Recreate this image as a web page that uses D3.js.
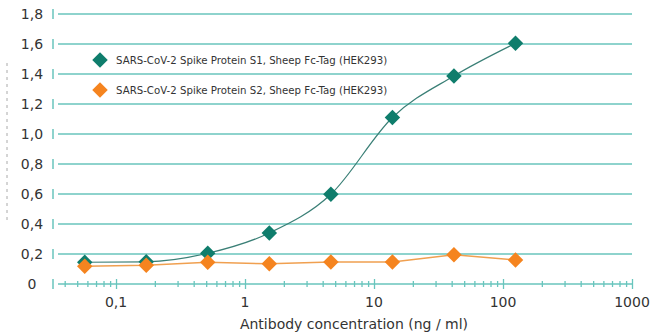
<!DOCTYPE html>
<html><head><meta charset="utf-8">
<script src="https://cdn.jsdelivr.net/npm/d3@7"></script>
<style>body{margin:0;background:#fff}svg{display:block}</style>
</head><body>
<script>
const concentrations = [0.0572, 0.1715, 0.514, 1.543, 4.63, 13.89, 41.67, 125];
const s1Values = [0.145, 0.148, 0.205, 0.34, 0.598, 1.11, 1.387, 1.605];
const s2Values = [0.118, 0.125, 0.145, 0.135, 0.147, 0.147, 0.195, 0.16];
const seriesNames = ["SARS-CoV-2 Spike Protein S1, Sheep Fc-Tag (HEK293)", "SARS-CoV-2 Spike Protein S2, Sheep Fc-Tag (HEK293)"];
const yTicks = [0, 0.2, 0.4, 0.6, 0.8, 1.0, 1.2, 1.4, 1.6, 1.8];
const xMajor = [0.1, 1, 10, 100, 1000];
const xLabels = ["0,1", "1", "10", "100", "1000"];
const xTitle = "Antibody concentration (ng / ml)";

const W = 650, H = 336;
const grid = "#68c5bd", teal = "#0f7d6c", orange = "#f5841f", txt = "#333";
const svg = d3.select("body").append("svg").attr("width", W).attr("height", H);

const x = d3.scaleLog().domain([0.0355, 1000]).range([58, 632]);
const y = d3.scaleLinear().domain([0, 1.8]).range([284, 14]);

// faint dashed mark at left
svg.append("line").attr("x1", 7).attr("x2", 7).attr("y1", 63).attr("y2", 220)
  .attr("stroke", "#aaa").attr("stroke-width", 1).attr("stroke-dasharray", "3,4");

// gridlines
svg.append("g").selectAll("line").data(yTicks.filter(d => d > 0)).join("line")
  .attr("x1", 58).attr("x2", 632).attr("y1", d => y(d)).attr("y2", d => y(d))
  .attr("stroke", grid).attr("stroke-width", 1.5);
// y tick marks
svg.append("g").selectAll("line").data(yTicks).join("line")
  .attr("x1", 53).attr("x2", 53).attr("y1", d => y(d) - 5).attr("y2", d => y(d) + 5)
  .attr("stroke", grid).attr("stroke-width", 1.5);
// y labels
svg.append("g").selectAll("text").data(yTicks).join("text")
  .attr("x", 32).attr("y", d => y(d)).attr("dy", "0.36em").attr("text-anchor", "middle")
  .attr("font-family", "DejaVu Sans").attr("font-size", 14).attr("fill", txt)
  .text(d => d === 0 ? "0" : d3.format(".1f")(d).replace(".", ","));

// x axis
const xAxis = d3.axisBottom(x).tickValues(x.ticks()).tickSize(0).tickFormat("");
const gx = svg.append("g").attr("transform", `translate(0,${y(0)})`).call(xAxis);
gx.select(".domain").attr("stroke", grid).attr("stroke-width", 1.5).attr("d", "M58,0H632");
gx.selectAll(".tick line").each(function(d) {
  const major = xMajor.some(m => Math.abs(m - d) / m < 1e-6);
  d3.select(this).attr("y1", major ? -5 : -3).attr("y2", major ? 5 : 3)
    .attr("stroke", grid).attr("stroke-width", 1.3);
});
svg.append("g").selectAll("text").data(xMajor).join("text")
  .attr("x", d => x(d)).attr("y", 307).attr("text-anchor", "middle")
  .attr("font-family", "DejaVu Sans").attr("font-size", 14).attr("fill", txt)
  .text((d, i) => xLabels[i]);
svg.append("text").attr("x", 354).attr("y", 329).attr("text-anchor", "middle")
  .attr("font-family", "DejaVu Sans").attr("font-size", 14).attr("fill", txt).text(xTitle);

// lines
const s1 = concentrations.map((c, i) => [c, s1Values[i]]);
const s2 = concentrations.map((c, i) => [c, s2Values[i]]);
svg.append("path").datum(s2).attr("fill", "none").attr("stroke", "#f0a050").attr("stroke-width", 1.5)
  .attr("d", d3.line().x(d => x(d[0])).y(d => y(d[1])));
svg.append("path").datum(s1).attr("fill", "none").attr("stroke", "#3a7f76").attr("stroke-width", 1.2)
  .attr("d", d3.line().curve(d3.curveMonotoneX).x(d => x(d[0])).y(d => y(d[1])));

const diamond = d3.symbol().type(d3.symbolSquare).size(120);
function marks(data, color) {
  svg.append("g").selectAll("path").data(data).join("path")
    .attr("d", diamond).attr("fill", color)
    .attr("transform", d => `translate(${x(d[0])},${y(d[1])}) rotate(45)`);
}
marks(s1, teal);
marks(s2, orange);

// legend
const lg = svg.append("g");
[[teal, 60], [orange, 90]].forEach(([c, ly], i) => {
  lg.append("path").attr("d", diamond).attr("fill", c).attr("transform", `translate(100,${ly}) rotate(45)`);
  lg.append("text").attr("x", 116).attr("y", ly).attr("dy", "0.35em")
    .attr("font-family", "DejaVu Sans").attr("font-size", 10.2).attr("fill", txt).text(seriesNames[i]);
});
</script>
</body></html>
